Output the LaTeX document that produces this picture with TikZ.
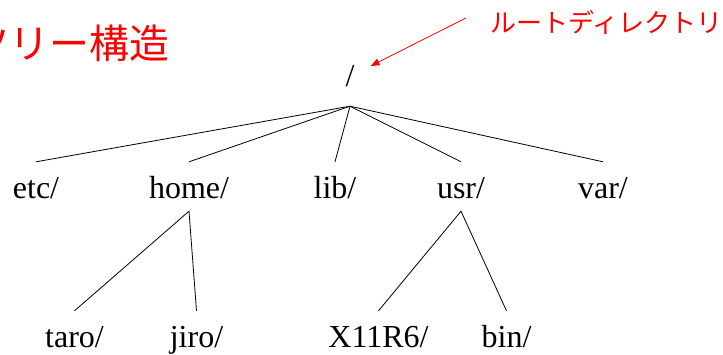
\documentclass[tikz,border=0pt]{standalone}
\usepackage{fontspec}
\setmainfont{Liberation Serif}
\newfontfamily\jpfont{Noto Sans CJK JP}
\usetikzlibrary{arrows.meta}

\begin{document}
\begin{tikzpicture}[x=1pt, y=1pt,
  level 1/.style={level distance=112pt, sibling distance=140pt},
  level 2/.style={level distance=149pt, sibling distance=123pt},
  parent anchor=south, child anchor=north,
  treenode/.style={inner xsep=2pt, inner ysep=13pt,
    text height=23pt, text depth=0pt,
    font=\fontsize{32pt}{36pt}\selectfont},
  every child node/.style={treenode},
  edge from parent/.style={draw, black, line width=0.8pt},
  redtext/.style={text=red, inner sep=0pt, anchor=west}]
  \useasboundingbox (0,0) rectangle (723,-354);
  \node[redtext, font=\jpfont\fontsize{40pt}{44pt}\selectfont] (title) at (-31,-43) {ツリー構造};
  \node[redtext, font=\jpfont\fontsize{26pt}{30pt}\selectfont] (rootlabel) at (490,-22) {ルートディレクトリ};
  \node[treenode, inner ysep=20pt] (root) at (350,-74.5) {/}
    child { node[xshift=-34pt] (etc) {etc/} }
    child { node[xshift=-21pt] (home) {home/}
      child { node[xshift=-53pt] (taro) {taro/} }
      child { node[xshift=-54pt] (jiro) {jiro/} } }
    child { node[xshift=-15pt] (lib) {lib/} }
    child { node[xshift=-29pt] (usr) {usr/}
      child { node[xshift=-21pt] (x11r6) {X11R6/} }
      child { node[xshift=-16pt] (bin) {bin/} } }
    child { node[xshift=-27pt] (var) {var/} };
  \draw[red, line width=0.8pt, -{Triangle[length=9pt,width=7pt]}]
    ([shift={(-24pt,4pt)}]rootlabel.west) -- ([shift={(14pt,8.5pt)}]root.east);
\end{tikzpicture}
\end{document}
